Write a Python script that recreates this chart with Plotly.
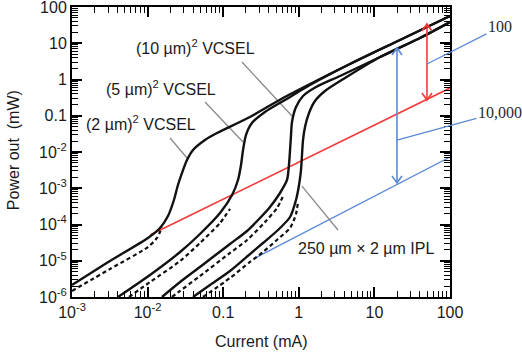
import plotly.graph_objects as go
import math

# ---------------- data ----------------
# (2 um)^2 VCSEL
c1_I = [0.00100, 0.00318, 0.0101, 0.0146, 0.0186, 0.0223, 0.0252, 0.0294, 0.0332, 0.0399, 0.0574, 0.0828, 0.226, 0.618, 1.406, 4.75, 21.8, 100]
c1_P = [2.14e-6, 9.84e-6, 4.25e-5, 8.0e-5, 1.71e-4, 4.74e-4, 1.23e-3, 3.18e-3, 6.01e-3, 1.135e-2, 2.14e-2, 3.34e-2, 9.25e-2, 0.309, 0.752, 2.68, 12.3, 56.5]
c1d_I = [0.00100, 0.00318, 0.0101, 0.0133, 0.0155]
c1d_P = [1.47e-6, 5.91e-6, 2.39e-5, 4.25e-5, 8.4e-5]

# (5 um)^2 VCSEL
c2_I = [0.00406, 0.01076, 0.0269, 0.0493, 0.0908, 0.131, 0.157, 0.172, 0.183, 0.200, 0.240, 0.357, 0.656, 1.406, 4.75, 21.8, 100]
c2_P = [1.0e-6, 4.05e-6, 1.74e-5, 5.47e-5, 2.07e-4, 6.52e-4, 1.69e-3, 4.38e-3, 1.135e-2, 2.94e-2, 6.31e-2, 0.127, 0.272, 0.705, 2.68, 12.3, 56.5]
c2d_I = [0.00568, 0.01076, 0.0269, 0.0493, 0.0908, 0.123]
c2d_P = [1.0e-6, 2.59e-6, 9.84e-6, 3.09e-5, 1.10e-4, 2.68e-4]

# (10 um)^2 VCSEL
c3_I = [0.0155, 0.0269, 0.0493, 0.123, 0.207, 0.307, 0.416, 0.564, 0.698, 0.741, 0.766, 0.789, 0.813, 0.918, 1.137, 1.690, 3.51, 11.9, 40.1, 100]
c3_P = [1.0e-6, 2.59e-6, 6.73e-6, 2.90e-5, 6.62e-5, 1.51e-4, 3.04e-4, 7.40e-4, 1.69e-3, 4.38e-3, 1.135e-2, 2.94e-2, 6.73e-2, 0.174, 0.351, 0.621, 1.25, 4.18, 14.0, 38.5]
c3d_I = [0.0210, 0.0269, 0.0493, 0.123, 0.207, 0.357, 0.515, 0.637]
c3d_P = [1.0e-6, 1.47e-6, 3.79e-6, 1.64e-5, 3.73e-5, 1.17e-4, 2.85e-4, 6.93e-4]

# 250 um x 2 um IPL
c4_I = [0.0399, 0.0668, 0.123, 0.226, 0.336, 0.531, 0.766, 0.918, 1.007, 1.069, 1.102, 1.137, 1.208, 1.365, 1.637, 2.22, 4.08, 11.9, 40.1, 100]
c4_P = [1.0e-6, 2.14e-6, 5.21e-6, 1.53e-5, 3.09e-5, 7.05e-5, 1.61e-4, 4.74e-4, 1.23e-3, 3.18e-3, 8.26e-3, 2.14e-2, 4.90e-2, 0.119, 0.255, 0.482, 1.10, 4.18, 14.0, 38.5]
c4d_I = [0.0541, 0.123, 0.226, 0.336, 0.531, 0.766, 0.918, 0.975]
c4d_P = [1.0e-6, 3.34e-6, 9.25e-6, 1.74e-5, 3.98e-5, 8.0e-5, 1.95e-4, 4.18e-4]

red_I = [0.01076, 100]
red_P = [5.13e-5, 0.583]
blue_I = [0.264, 100]
blue_P = [1.19e-5, 7.28e-3]

red_arrow_I = 49.6
red_arrow_P = [34.0, 0.272]
blue_arrow_I = 19.9
blue_arrow_P = [7.40, 1.40e-3]

ratio_labels = ["100", "10,000"]
ratio_heads_I = [49.6, 19.9]
ratio_heads_P = [2.68, 2.14e-2]

curve_labels = ["(10 µm)<sup>2</sup> VCSEL", "(5 µm)<sup>2</sup> VCSEL", "(2 µm)<sup>2</sup> VCSEL", "250 µm × 2 µm IPL"]
label_I = [0.0424, 0.0150, 0.00818, 7.74]
label_P = [7.64, 0.601, 0.0631, 2.11e-5]
leader_I = [[0.177, 0.813], [0.0574, 0.183], [0.0198, 0.0332], [1.102, 3.30]]
leader_P = [[3.04, 0.0984], [0.239, 0.0189], [0.0243, 6.82e-3], [1.15e-3, 7.05e-5]]

x_decades = [1e-3, 1e-2, 0.1, 1, 10, 100]
x_ticktext = ["10<sup>-3</sup>", "10<sup>-2</sup>", "0.1", "1", "10", "100"]
y_decades = [1e-6, 1e-5, 1e-4, 1e-3, 1e-2, 0.1, 1, 10, 100]
y_ticktext = ["10<sup>-6</sup>", "10<sup>-5</sup>", "10<sup>-4</sup>", "10<sup>-3</sup>",
              "10<sup>-2</sup>", "0.1", "1", "10", "100"]
minor_digits = [2, 3, 4, 5, 6, 7, 8, 9]

# ---------------- figure ----------------
W, H = 522, 360
ML, MR, MT, MB = 72, 72, 7, 63
XR = [-3, 2]
YR = [-6, 2]
px_per_dec_x = (W - ML - MR) / (XR[1] - XR[0])
px_per_dec_y = (H - MT - MB) / (YR[1] - YR[0])

SANS = "Liberation Sans, Arial, sans-serif"
SERIF = "Liberation Serif, Times New Roman, serif"
BLACK = "#111111"
RED = "#f23a3a"
BLUE = "#5a8ad6"
GRAY = "#8a8a8a"
TXT = "#1a1a1a"

fig = go.Figure()

# reference lines
fig.add_trace(go.Scatter(x=red_I, y=red_P, mode="lines", line=dict(color=RED, width=1.6), hoverinfo="skip"))
fig.add_trace(go.Scatter(x=blue_I, y=blue_P, mode="lines", line=dict(color=BLUE, width=1.4), hoverinfo="skip"))

# leader lines for curve labels
for li, lp in zip(leader_I, leader_P):
    fig.add_trace(go.Scatter(x=li, y=lp, mode="lines", line=dict(color=GRAY, width=1.3), hoverinfo="skip"))

# curves
for xi, yi in [(c1_I, c1_P), (c2_I, c2_P), (c3_I, c3_P), (c4_I, c4_P)]:
    fig.add_trace(go.Scatter(x=xi, y=yi, mode="lines",
                             line=dict(color=BLACK, width=2.4, shape="spline", smoothing=0.7),
                             hoverinfo="skip"))
for xi, yi in [(c1d_I, c1d_P), (c2d_I, c2d_P), (c3d_I, c3d_P), (c4d_I, c4d_P)]:
    fig.add_trace(go.Scatter(x=xi, y=yi, mode="lines",
                             line=dict(color=BLACK, width=2.2, dash="4px,3px", shape="spline", smoothing=0.7),
                             hoverinfo="skip"))


def double_arrow(I, Ps, color):
    top, bot = max(Ps), min(Ps)
    fx = 10 ** (5 / px_per_dec_x)
    fy = 10 ** (7 / px_per_dec_y)
    xs = [I, I, None, I / fx, I, I * fx, None, I / fx, I, I * fx]
    ys = [top, bot, None, top / fy, top, top / fy, None, bot * fy, bot, bot * fy]
    fig.add_trace(go.Scatter(x=xs, y=ys, mode="lines", line=dict(color=color, width=1.6), hoverinfo="skip"))


double_arrow(red_arrow_I, red_arrow_P, RED)
double_arrow(blue_arrow_I, blue_arrow_P, BLUE)

# invisible trace so the overlaid tick axes (long decade ticks) are drawn
fig.add_trace(go.Scatter(x=[1], y=[1], xaxis="x2", yaxis="y2", mode="markers",
                         marker=dict(opacity=0), hoverinfo="skip"))

annotations = []
for t, li, lp in zip(curve_labels, label_I, label_P):
    annotations.append(dict(x=math.log10(li), y=math.log10(lp), xref="x", yref="y", text=t,
                            xanchor="center", yanchor="middle",
                            showarrow=False, font=dict(family=SANS, size=16, color=TXT)))
offsets = [(73, -37), (103, -28)]
for t, hi, hp, (ax, ay) in zip(ratio_labels, ratio_heads_I, ratio_heads_P, offsets):
    annotations.append(dict(x=math.log10(hi), y=math.log10(hp), xref="x", yref="y", text=t,
                            showarrow=True, arrowhead=0, arrowwidth=1.3, arrowcolor=BLUE,
                            ax=ax, ay=ay, standoff=0, startstandoff=0,
                            font=dict(family=SERIF, size=16, color="#2a2a2a")))
annotations.append(dict(x=-0.153, y=0.507, xref="paper", yref="paper", text="Power out  (mW)",
                        xanchor="center", yanchor="middle",
                        textangle=-90, showarrow=False, font=dict(family=SANS, size=16, color=TXT)))
annotations.append(dict(x=0.5, y=-0.155, xref="paper", yref="paper", text="Current (mA)",
                        xanchor="center", yanchor="middle",
                        showarrow=False, font=dict(family=SANS, size=16, color=TXT)))

# tick positions: every digit of every decade (short ticks); labels only at decades
x_all = [k * d for d in x_decades[:-1] for k in [1] + minor_digits] + [x_decades[-1]]
y_all = [k * d for d in y_decades[:-1] for k in [1] + minor_digits] + [y_decades[-1]]
x_lab = {v: t for v, t in zip(x_decades, x_ticktext)}
y_lab = {v: t for v, t in zip(y_decades, y_ticktext)}
x_all_text = [x_lab.get(v, "") for v in x_all]
y_all_text = [y_lab.get(v, "") for v in y_all]

axis_common = dict(type="log", showgrid=False, zeroline=False, showline=True, linecolor="black", linewidth=2,
                   ticks="inside", ticklen=6, tickwidth=1.4, tickcolor="#000000", mirror="allticks",
                   tickmode="array", tickfont=dict(family=SANS, size=16, color=TXT), layer="above traces",
                   ticklabeloverflow="allow", automargin=False)
long_ticks = dict(type="log", showgrid=False, zeroline=False, showline=False, showticklabels=False,
                  ticks="inside", ticklen=10, tickwidth=2.2, tickcolor="#000000", mirror="allticks",
                  tickmode="array", layer="above traces", automargin=False)

fig.update_layout(
    template="none",
    width=W, height=H,
    margin=dict(l=ML, r=MR, t=MT, b=MB),
    paper_bgcolor="white", plot_bgcolor="white",
    showlegend=False,
    xaxis=dict(range=XR, tickvals=x_all, ticktext=x_all_text, **axis_common),
    yaxis=dict(range=YR, tickvals=y_all, ticktext=y_all_text, **axis_common),
    xaxis2=dict(range=XR, tickvals=x_decades, overlaying="x", anchor="y2", **long_ticks),
    yaxis2=dict(range=YR, tickvals=y_decades, overlaying="y", anchor="x2", **long_ticks),
    annotations=annotations,
)

fig.write_html("out.html")
